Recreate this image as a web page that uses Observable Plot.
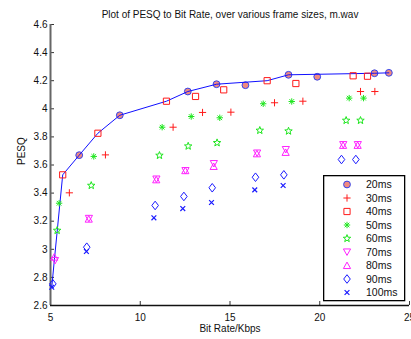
<!DOCTYPE html>
<html>
<head>
<meta charset="utf-8">
<script src="https://cdn.jsdelivr.net/npm/d3@7"></script>
<script src="https://cdn.jsdelivr.net/npm/@observablehq/plot@0.6"></script>
<style>
  body { margin: 0; background: #fff; }
  #wrap { position: relative; width: 411px; height: 339px; font-family: "Liberation Sans", Arial, sans-serif; }
  #legend { position: absolute; }
</style>
</head>
<body>
<div id="wrap"></div>
<script>
// ---- data ----
const titleText = "Plot of PESQ to Bit Rate, over various frame sizes, m.wav";
const xLabel = "Bit Rate/Kbps";
const yLabel = "PESQ";
const xDomain = [5, 25];
const yDomain = [2.6, 4.6];
const xTicks = [5, 10, 15, 20, 25];
const yTicks = [2.6, 2.8, 3, 3.2, 3.4, 3.6, 3.8, 4, 4.2, 4.4, 4.6];

const seriesNames = ["20ms", "30ms", "40ms", "50ms", "60ms", "70ms", "80ms", "90ms", "100ms"];

const rates20 = [6.60, 8.86, 12.65, 14.25, 15.86, 18.26, 19.86, 23.05, 23.85];
const pesq20  = [3.670, 3.954, 4.123, 4.175, 4.168, 4.242, 4.228, 4.253, 4.256];
const rates30 = [6.05, 8.06, 11.83, 13.47, 15.05, 17.48, 19.06, 22.27, 23.07];
const pesq30  = [3.402, 3.672, 3.869, 3.974, 3.976, 4.043, 4.054, 4.123, 4.123];
const rates40 = [5.68, 7.64, 11.46, 13.08, 14.65, 17.07, 18.67, 21.86, 22.66];
const pesq40  = [3.530, 3.826, 4.054, 4.088, 4.135, 4.200, 4.180, 4.235, 4.232];
const rates50 = [5.48, 7.41, 11.22, 12.84, 14.43, 16.85, 18.44, 21.64, 22.44];
const pesq50  = [3.328, 3.661, 3.869, 3.945, 3.936, 4.036, 4.052, 4.076, 4.076];
const rates60 = [5.37, 7.27, 11.07, 12.67, 14.28, 16.66, 18.26, 21.47, 22.27];
const pesq60  = [3.134, 3.454, 3.668, 3.734, 3.758, 3.846, 3.841, 3.917, 3.917];
const rates70 = [5.25, 7.14, 10.90, 12.52, 14.10, 16.51, 18.11, 21.31, 22.12];
const pesq70  = [2.920, 3.220, 3.500, 3.560, 3.610, 3.685, 3.710, 3.745, 3.745];
const rates80 = [5.21, 7.13, 10.89, 12.51, 14.09, 16.50, 18.10, 21.30, 22.11];
const pesq80  = [2.945, 3.215, 3.495, 3.560, 3.590, 3.680, 3.690, 3.740, 3.740];
const rates90 = [5.13, 7.02, 10.83, 12.43, 14.01, 16.42, 18.00, 21.21, 22.01];
const pesq90  = [2.754, 3.015, 3.312, 3.376, 3.438, 3.513, 3.530, 3.639, 3.639];
const rates100 = [5.07, 7.00, 10.76, 12.37, 13.97, 16.38, 17.96];
const pesq100  = [2.730, 2.984, 3.224, 3.290, 3.333, 3.423, 3.454];

// upper envelope line (best PESQ per bit rate)
const bestRates = [5.07, 5.22, 5.68, 6.60, 7.64, 8.86, 11.46, 12.65, 14.25, 17.07, 18.26, 23.05, 23.85];
const bestPesq  = [2.730, 2.930, 3.530, 3.670, 3.826, 3.954, 4.054, 4.123, 4.175, 4.200, 4.242, 4.253, 4.256];

// ---- helpers ----
const zip = (xs, ys) => xs.map((x, i) => ({x, y: ys[i]}));
const sym = f => ({draw(ctx, size) { const r = Math.sqrt(size / Math.PI); f(ctx, r); }});
const poly = (ctx, pts) => { ctx.moveTo(pts[0][0], pts[0][1]); for (let i = 1; i < pts.length; i++) ctx.lineTo(pts[i][0], pts[i][1]); ctx.closePath(); };
const symPlus = sym((c, r) => { c.moveTo(-r, 0); c.lineTo(r, 0); c.moveTo(0, -r); c.lineTo(0, r); });
const symTimes = sym((c, r) => { c.moveTo(-r, -r); c.lineTo(r, r); c.moveTo(-r, r); c.lineTo(r, -r); });
const symAst = sym((c, r) => { const s = r * 0.72; c.moveTo(-r, 0); c.lineTo(r, 0); c.moveTo(0, -r); c.lineTo(0, r); c.moveTo(-s, -s); c.lineTo(s, s); c.moveTo(-s, s); c.lineTo(s, -s); });
const symSquare = sym((c, r) => poly(c, [[-r, -r], [r, -r], [r, r], [-r, r]]));
const symDiamond = sym((c, r) => poly(c, [[0, -1.3 * r], [r, 0], [0, 1.3 * r], [-r, 0]]));
const symTriDown = sym((c, r) => poly(c, [[-r, -0.85 * r], [r, -0.85 * r], [0, 0.95 * r]]));
const symTriUp = sym((c, r) => poly(c, [[0, -0.95 * r], [r, 0.85 * r], [-r, 0.85 * r]]));
const symStar = sym((c, r) => {
  const pts = [];
  for (let i = 0; i < 10; i++) {
    const a = -Math.PI / 2 + i * Math.PI / 5;
    const rr = i % 2 === 0 ? r : r * 0.42;
    pts.push([rr * Math.cos(a), rr * Math.sin(a)]);
  }
  poly(c, pts);
});

const RED = "#ff1a1a", GREEN = "#1ee61e", MAG = "#ff22ff", BLUE = "#1a1aff";
const styles = [
  {name: "20ms", symbol: "circle", r: 3.4, stroke: "#3344ee", fill: "#f08a80", sw: 1},
  {name: "30ms", symbol: symPlus, r: 3.6, stroke: RED, fill: "none", sw: 1},
  {name: "40ms", symbol: symSquare, r: 3.1, stroke: RED, fill: "none", sw: 1},
  {name: "50ms", symbol: symAst, r: 3.2, stroke: GREEN, fill: "none", sw: 1},
  {name: "60ms", symbol: symStar, r: 3.9, stroke: GREEN, fill: "none", sw: 1},
  {name: "70ms", symbol: symTriDown, r: 3.6, stroke: MAG, fill: "none", sw: 1},
  {name: "80ms", symbol: symTriUp, r: 3.6, stroke: MAG, fill: "none", sw: 1},
  {name: "90ms", symbol: symDiamond, r: 3.3, stroke: BLUE, fill: "none", sw: 1},
  {name: "100ms", symbol: symTimes, r: 2.4, stroke: BLUE, fill: "none", sw: 1.2}
];
const seriesData = [
  zip(rates20, pesq20), zip(rates30, pesq30), zip(rates40, pesq40),
  zip(rates50, pesq50), zip(rates60, pesq60), zip(rates70, pesq70),
  zip(rates80, pesq80), zip(rates90, pesq90), zip(rates100, pesq100)
];

const W = 411, H = 339, mL = 50, mR = 2, mT = 24, mB = 34;
const plotW = W - mL - mR, plotH = H - mT - mB;
const dotMark = (data, s) => Plot.dot(data, {x: "x", y: "y", symbol: s.symbol, r: s.r, stroke: s.stroke, fill: s.fill, strokeWidth: s.sw});

const chart = Plot.plot({
  width: W, height: H,
  marginLeft: mL, marginRight: mR, marginTop: mT, marginBottom: mB,
  style: {fontFamily: "'Liberation Sans', Arial, sans-serif", fontSize: "10px", color: "#111", background: "white"},
  x: {domain: xDomain},
  y: {domain: yDomain},
  marks: [
    Plot.axisX({ticks: xTicks, tickSize: 0, tickPadding: 8, tickFormat: d => String(d), label: null, fontSize: 10}),
    Plot.axisY({ticks: yTicks, tickSize: 0, tickPadding: 3, tickFormat: d => String(d), label: null, fontSize: 10}),
    Plot.tickY(yTicks, {y: d => d, insetRight: plotW - 4, stroke: "#333"}),
    Plot.tickX(xTicks, {x: d => d, insetTop: plotH - 4, stroke: "#333"}),
    Plot.ruleX([xDomain[0]], {stroke: "#666", strokeWidth: 2}),
    Plot.ruleY([yDomain[0]], {stroke: "#111", strokeWidth: 1.3}),
    dotMark(seriesData[0], styles[0]),
    Plot.line(zip(bestRates, bestPesq), {x: "x", y: "y", stroke: "#1010ff", strokeWidth: 1}),
    ...seriesData.slice(1).map((d, i) => dotMark(d, styles[i + 1])),
    Plot.text([titleText], {frameAnchor: "top", dy: -14, fontSize: 10, fill: "#111"}),
    Plot.text([yLabel], {frameAnchor: "left", rotate: -90, dx: -29, fontSize: 10, fill: "#111"}),
    Plot.text([xLabel], {frameAnchor: "bottom", dy: 26, fontSize: 10, fill: "#111"})
  ]
});
const wrap = document.getElementById("wrap");
wrap.appendChild(chart);

// ---- legend (overlay, MATLAB style box) ----
const lgW = 81, lgH = 125;
const lg = d3.select(wrap).append("div").attr("id", "legend")
  .style("left", "323px").style("top", "175px")
  .append("svg").attr("width", lgW + 2).attr("height", lgH + 2);
lg.append("rect").attr("x", 0.65).attr("y", 0.65).attr("width", lgW).attr("height", lgH)
  .attr("fill", "white").attr("stroke", "#000").attr("stroke-width", 1.3);
styles.forEach((s, i) => {
  const cy = 9.5 + i * 13.5;
  const type = s.symbol === "circle" ? d3.symbolCircle : s.symbol;
  lg.append("path")
    .attr("transform", `translate(24,${cy})`)
    .attr("d", d3.symbol().type(type).size(Math.PI * s.r * s.r)())
    .attr("fill", s.fill).attr("stroke", s.stroke).attr("stroke-width", s.sw);
  lg.append("text").attr("x", 43).attr("y", cy).attr("dy", "0.35em")
    .attr("font-size", "10.5px").attr("fill", "#111")
    .attr("font-family", "'Liberation Sans', Arial, sans-serif")
    .text(s.name);
});
</script>
</body>
</html>
